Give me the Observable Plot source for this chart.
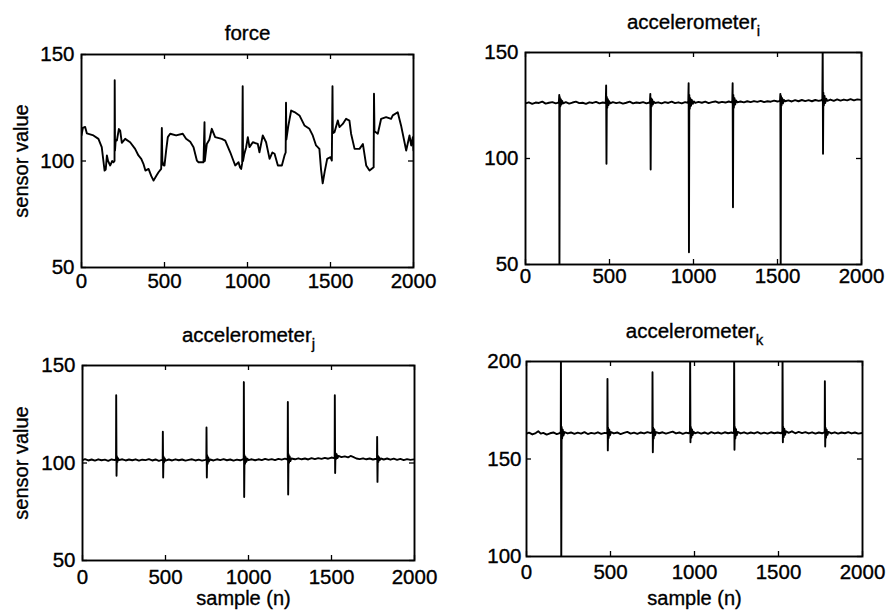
<!DOCTYPE html>
<html><head><meta charset="utf-8">
<script src="https://cdn.jsdelivr.net/npm/d3@7"></script>
<script src="https://cdn.jsdelivr.net/npm/@observablehq/plot@0.6"></script>
<style>
body{margin:0;background:#fff;}
#wrap{position:relative;width:888px;height:612px;overflow:hidden;background:#fff;}
.panel{position:absolute;width:444px;height:306px;}
.panel svg text{fill:#000;stroke:#000;stroke-width:0.35px;}
</style></head><body><div id="wrap"></div>
<script>
const xTicks = [0, 500, 1000, 1500, 2000];
const yTicksLow = [50, 100, 150];
const yTicksHigh = [100, 150, 200];
const titleForce = "force";
const titleAcc = "accelerometer";
const subI = "i", subJ = "j", subK = "k";
const yLabel = "sensor value";
const xLabel = "sample (n)";

const forceSeries = [[0,112],[8,115.5],[22,116],[32,113],[72,112],[102,110.4],[122,106.5],[132,100],[139,95.5],[146,96],[153,102.6],[160,100],[173,97.9],[185,100],[193,99.4],[199,100],[200,137.9],[202,105],[206,110],[213,109.6],[225,115],[233,114.3],[243,108.5],[263,110.4],[293,108.8],[323,105.7],[343,102.6],[360,101],[373,98.7],[385,95.5],[404,96.3],[420,93],[434,90.8],[450,93],[464,94.7],[480,96.3],[484,115.5],[487,100],[493,98],[500,97.9],[510,105],[520,111.2],[534,112.8],[570,112],[610,112.8],[630,110.4],[655,109],[675,106.5],[695,100.2],[705,99.4],[735,99.4],[741,118.2],[743,100],[755,108],[770,110],[785,115.1],[805,111.2],[845,110.4],[866,109.6],[896,104.1],[926,97.9],[946,99.4],[955,97],[962,96.3],[968,99],[971,135.1],[973,100],[980,103],[992,106.5],[1002,111.2],[1012,106.5],[1032,108.8],[1062,108],[1072,104.1],[1092,112],[1112,108.8],[1133,101],[1150,104],[1163,103.4],[1183,97.9],[1207,97.9],[1223,102.6],[1230,104],[1232,127.4],[1234,110],[1245,116],[1263,123.7],[1283,123],[1313,121.4],[1343,116.7],[1373,115.1],[1393,112],[1413,107.3],[1433,105.7],[1443,96],[1453,89.5],[1465,95],[1480,101],[1500,101.8],[1508,100.2],[1512,135.1],[1514,113],[1524,113.5],[1544,119],[1554,115.9],[1574,117.4],[1594,119.8],[1614,119],[1624,112.8],[1645,105.7],[1675,105.7],[1695,108],[1715,97.9],[1735,95.5],[1760,97.1],[1762,131.6],[1765,114],[1785,112.8],[1805,119.8],[1835,120.6],[1865,119.8],[1875,121.4],[1905,122.9],[1925,116.7],[1956,104.9],[1976,112],[1986,107.3],[1996,111.2],[2000,105]];

const accISeries = [[0,126.0],[20,126.5],[40,125.8],[60,126.4],[80,126.2],[100,126.8],[120,125.9],[140,126.3],[160,126.6],[180,126.0],[196,126.4],[199,127],[201,130],[202,45],[204,129],[207,124.5],[210,128],[214,125.5],[218,127.2],[224,126.0],[240,126.6],[260,125.9],[280,126.4],[300,126.8],[320,126.1],[340,126.3],[360,125.8],[380,126.5],[400,126.2],[420,126.7],[440,126.0],[460,126.4],[476,126.2],[478,126.6],[480,134.4],[482,97.5],[484,129],[487,124],[490,128],[494,125.2],[498,127],[504,126.0],[520,126.6],[540,126.1],[560,126.5],[580,125.9],[600,126.3],[620,126.8],[640,126.0],[660,126.4],[680,126.2],[700,126.6],[720,126.0],[738,126.4],[741,127],[743,130.5],[745,94.8],[747,128.5],[750,124.5],[754,127.8],[758,125.5],[763,126.8],[770,126.2],[790,126.5],[810,126.0],[830,126.6],[850,126.2],[870,126.8],[890,126.1],[910,126.5],[930,126.0],[950,126.6],[966,126.3],[969,127],[971,135.5],[973,55.8],[975,130],[978,123.5],[981,128.5],[985,124.8],[990,127.6],[996,125.8],[1002,126.9],[1010,126.2],[1030,126.7],[1050,126.3],[1070,126.8],[1090,126.1],[1110,126.6],[1130,126.9],[1150,126.3],[1170,126.7],[1190,126.4],[1210,126.9],[1226,126.5],[1231,127.2],[1233,135.5],[1235,77],[1237,130],[1240,124],[1244,128.5],[1248,125.5],[1253,127.4],[1260,126.5],[1280,126.9],[1300,126.5],[1320,127.0],[1340,126.6],[1360,127.1],[1380,126.7],[1400,127.2],[1420,126.6],[1440,127.0],[1460,126.8],[1480,127.3],[1500,126.9],[1510,127.1],[1515,127.5],[1517,130.5],[1519,45],[1521,129.5],[1524,125],[1528,128.5],[1532,126],[1538,127.6],[1545,127.0],[1565,127.4],[1585,126.9],[1605,127.5],[1625,127.0],[1645,127.6],[1665,127.1],[1685,127.5],[1705,127.0],[1725,127.6],[1745,127.2],[1762,127.5],[1767,128],[1769,153],[1771,102.2],[1773,131],[1776,125],[1780,129.5],[1784,126.2],[1790,128.2],[1797,127.2],[1815,127.8],[1835,127.2],[1855,127.9],[1875,127.3],[1895,127.8],[1915,127.4],[1935,128.0],[1955,127.4],[1975,127.9],[2000,127.6]];

const accJSeries = [[0,101.5],[15,102.0],[35,101.3],[55,101.8],[75,101.2],[95,101.9],[115,101.4],[135,101.7],[155,101.1],[175,101.8],[195,101.5],[202,102],[203,134.8],[205,93.5],[207,103.5],[210,100.5],[214,102.5],[220,101.5],[240,101.9],[260,101.3],[280,101.8],[300,101.4],[320,101.9],[340,101.2],[360,101.7],[380,101.5],[400,102.0],[420,101.3],[440,101.8],[460,101.1],[478,101.6],[483,101.8],[484,116],[486,92.6],[488,103.3],[491,100.2],[495,102.4],[500,101.2],[520,101.8],[540,101.3],[560,101.9],[580,101.4],[600,101.8],[620,101.2],[640,101.6],[660,101.9],[680,101.3],[700,101.7],[720,101.2],[740,101.6],[746,101.8],[747,118.2],[749,92.6],[751,104],[754,99.5],[758,102.8],[762,100.8],[768,101.8],[790,101.3],[810,101.9],[830,101.5],[850,102.0],[870,101.4],[890,101.8],[910,101.2],[930,101.7],[950,101.4],[966,101.9],[971,102],[972,141.5],[974,82.6],[976,104],[979,99.5],[983,103],[987,100.6],[993,102.2],[1000,101.5],[1020,101.9],[1040,101.4],[1060,101.9],[1080,101.5],[1100,102.1],[1120,101.6],[1140,102.0],[1160,101.5],[1180,102.1],[1200,101.7],[1220,102.2],[1232,101.8],[1236,102.2],[1237,131.3],[1239,83.8],[1241,104.5],[1244,100],[1248,103.4],[1252,101],[1258,102.3],[1280,101.9],[1300,102.4],[1320,101.9],[1340,102.3],[1360,101.8],[1380,102.5],[1400,102.0],[1420,102.5],[1440,102.1],[1460,102.6],[1480,102.2],[1500,102.8],[1515,102.5],[1519,103],[1520,134.8],[1522,94.9],[1524,105],[1527,102],[1531,104.5],[1536,102.5],[1542,103.6],[1560,103.0],[1580,103.4],[1600,102.9],[1615,103.6],[1630,103.1],[1650,102.3],[1670,102.0],[1690,102.4],[1710,101.9],[1730,102.3],[1750,101.8],[1770,102.2],[1774,102],[1775,113.4],[1777,90.3],[1779,103.8],[1782,100.5],[1786,103],[1791,101.5],[1797,102.3],[1815,101.8],[1835,102.3],[1855,101.7],[1875,102.2],[1895,101.6],[1915,102.1],[1935,101.5],[1955,102.0],[1975,101.6],[2000,101.9]];

const accKSeries = [[0,163.0],[15,163.5],[35,162.6],[55,163.3],[70,164.2],[85,163.0],[100,163.4],[120,162.5],[140,163.2],[160,163.6],[180,162.8],[198,163.3],[204,164],[205,205],[207,95],[209,166.5],[212,160.5],[216,165],[220,162],[226,163.8],[245,163.1],[265,163.6],[285,162.9],[305,163.5],[325,163.0],[345,163.8],[365,162.8],[385,163.4],[405,163.0],[425,163.7],[445,162.9],[465,163.4],[478,163.2],[481,163.8],[482,191.1],[484,154.4],[486,166],[489,160.8],[493,165],[497,162.2],[503,163.8],[520,163.1],[540,163.6],[560,162.8],[580,163.4],[600,163.9],[620,163.0],[640,163.5],[660,162.9],[680,163.6],[700,163.1],[720,163.8],[740,163.3],[749,164],[750,194.5],[752,153.5],[754,166],[757,160.5],[761,165.2],[765,162.2],[771,163.8],[790,163.2],[810,163.7],[830,163.0],[850,163.5],[870,164.0],[890,163.1],[910,163.6],[930,162.9],[950,163.5],[966,163.2],[973,164],[974,205],[976,158.6],[978,166.5],[981,161],[985,165.2],[989,162.3],[995,164],[1002,163.2],[1020,163.7],[1040,163.0],[1060,163.6],[1080,162.9],[1100,163.8],[1120,163.1],[1140,163.6],[1160,163.0],[1180,163.7],[1200,163.2],[1220,163.6],[1230,163.3],[1235,164],[1236,205],[1238,154.7],[1240,166.5],[1243,160.5],[1247,165.3],[1251,162.2],[1257,163.9],[1275,163.1],[1295,163.7],[1315,163.0],[1335,163.6],[1355,163.1],[1375,163.8],[1395,163.0],[1415,163.5],[1435,163.0],[1455,163.7],[1475,163.2],[1495,163.6],[1515,163.2],[1523,164],[1524,205],[1526,158.6],[1528,166.5],[1531,161.2],[1535,165.4],[1539,162.4],[1545,164.2],[1560,163.4],[1580,164.2],[1600,163.2],[1620,163.9],[1640,163.3],[1660,163.8],[1680,163.1],[1700,163.7],[1720,163.0],[1740,163.6],[1760,163.2],[1770,163.5],[1775,164],[1776,189.9],[1778,156.4],[1780,166],[1783,161],[1787,165],[1791,162.4],[1797,163.9],[1815,163.1],[1835,163.7],[1855,163.0],[1875,163.6],[1895,163.2],[1915,163.8],[1935,163.1],[1955,163.6],[1975,163.0],[2000,163.4]];

const FONT = "'Liberation Sans', Arimo, Arial, Helvetica, sans-serif";
const TICK_FS = 20.5, TEXT_FS = 20.5;

function panel(cfg) {
  const W = 444 - cfg.mL - cfg.mR;
  const H = 306 - cfg.mT - cfg.mB;
  const tl = 5;
  const marks = [
    Plot.line(cfg.data, {x: d => d[0], y: d => d[1], stroke: "black", strokeWidth: 1.9, strokeLinejoin: "round", clip: true}),
    Plot.frame({stroke: "black", strokeWidth: 1.9}),
    Plot.ruleX(xTicks, {x: d => d, insetTop: H - tl, stroke: "black", strokeWidth: 1.3}),
    Plot.ruleX(xTicks, {x: d => d, insetBottom: H - tl, stroke: "black", strokeWidth: 1.3}),
    Plot.ruleY(cfg.yTicks, {y: d => d, insetRight: W - tl, stroke: "black", strokeWidth: 1.3}),
    Plot.ruleY(cfg.yTicks, {y: d => d, insetLeft: W - tl, stroke: "black", strokeWidth: 1.3}),
    Plot.axisX(xTicks, {tickSize: 0, tickPadding: cfg.xPad, tickFormat: d => String(d), label: null, fontSize: TICK_FS}),
    Plot.axisY(cfg.yTicks, {tickSize: 0, tickPadding: cfg.yPad, tickFormat: d => String(d), label: null, fontSize: TICK_FS}),
    Plot.text([cfg.title], {text: d => d, frameAnchor: "top", lineAnchor: "bottom", dy: cfg.titleDy, dx: cfg.titleDx || 0, fontSize: TEXT_FS})
  ];
  if (cfg.yLabel) marks.push(Plot.text([cfg.yLabel], {text: d => d, frameAnchor: "left", rotate: -90, dx: cfg.yLabelDx, textAnchor: "middle", lineAnchor: "middle", fontSize: 20}));
  if (cfg.xLabel) marks.push(Plot.text([cfg.xLabel], {text: d => d, frameAnchor: "bottom", lineAnchor: "bottom", dy: cfg.xLabelDy, dx: cfg.xLabelDx || 0, fontSize: 20}));
  const svg = Plot.plot({
    width: 444, height: 306,
    marginLeft: cfg.mL, marginRight: cfg.mR, marginTop: cfg.mT, marginBottom: cfg.mB,
    x: {domain: [0, 2000], label: null},
    y: {domain: cfg.yDomain, label: null},
    style: {fontFamily: FONT, fontSize: "20px", color: "black", background: "white", overflow: "visible"},
    marks
  });
  if (cfg.sub) {
    svg.querySelectorAll("text").forEach(t => {
      if (t.textContent === cfg.title) {
        const ts = document.createElementNS("http://www.w3.org/2000/svg", "tspan");
        ts.setAttribute("dy", "7");
        ts.setAttribute("font-size", "15");
        ts.setAttribute("fill", "black");
        ts.textContent = cfg.sub;
        t.appendChild(ts);
      }
    });
  }
  const div = document.createElement("div");
  div.className = "panel";
  div.style.left = cfg.left + "px";
  div.style.top = cfg.top + "px";
  div.appendChild(svg);
  document.getElementById("wrap").appendChild(div);
}

panel({data: forceSeries, yDomain: [50, 150], yTicks: yTicksLow, title: titleForce, sub: "",
  left: 0, top: 0, mL: 81, mR: 31, mT: 54, mB: 39, titleDy: -15, xPad: 6, yPad: 7, yLabel: yLabel, yLabelDx: -60});
panel({data: accISeries, yDomain: [50, 150], yTicks: yTicksLow, title: titleAcc, sub: subI,
  left: 444, top: 0, mL: 81, mR: 27, mT: 52, mB: 42, titleDy: -24, xPad: 4, yPad: 7});
panel({data: accJSeries, yDomain: [50, 150], yTicks: yTicksLow, title: titleAcc, sub: subJ,
  left: 0, top: 306, mL: 82, mR: 30, mT: 59, mB: 52, titleDy: -24, xPad: 9, yPad: 7, yLabel: yLabel, yLabelDx: -60.5, xLabel: xLabel, xLabelDy: 44, xLabelDx: -5});
panel({data: accKSeries, yDomain: [100, 200], yTicks: yTicksHigh, title: titleAcc, sub: subK,
  left: 444, top: 306, mL: 82, mR: 26, mT: 55, mB: 56, titleDy: -24, xPad: 8, yPad: 5, xLabel: xLabel, xLabelDy: 48});
</script></body></html>
